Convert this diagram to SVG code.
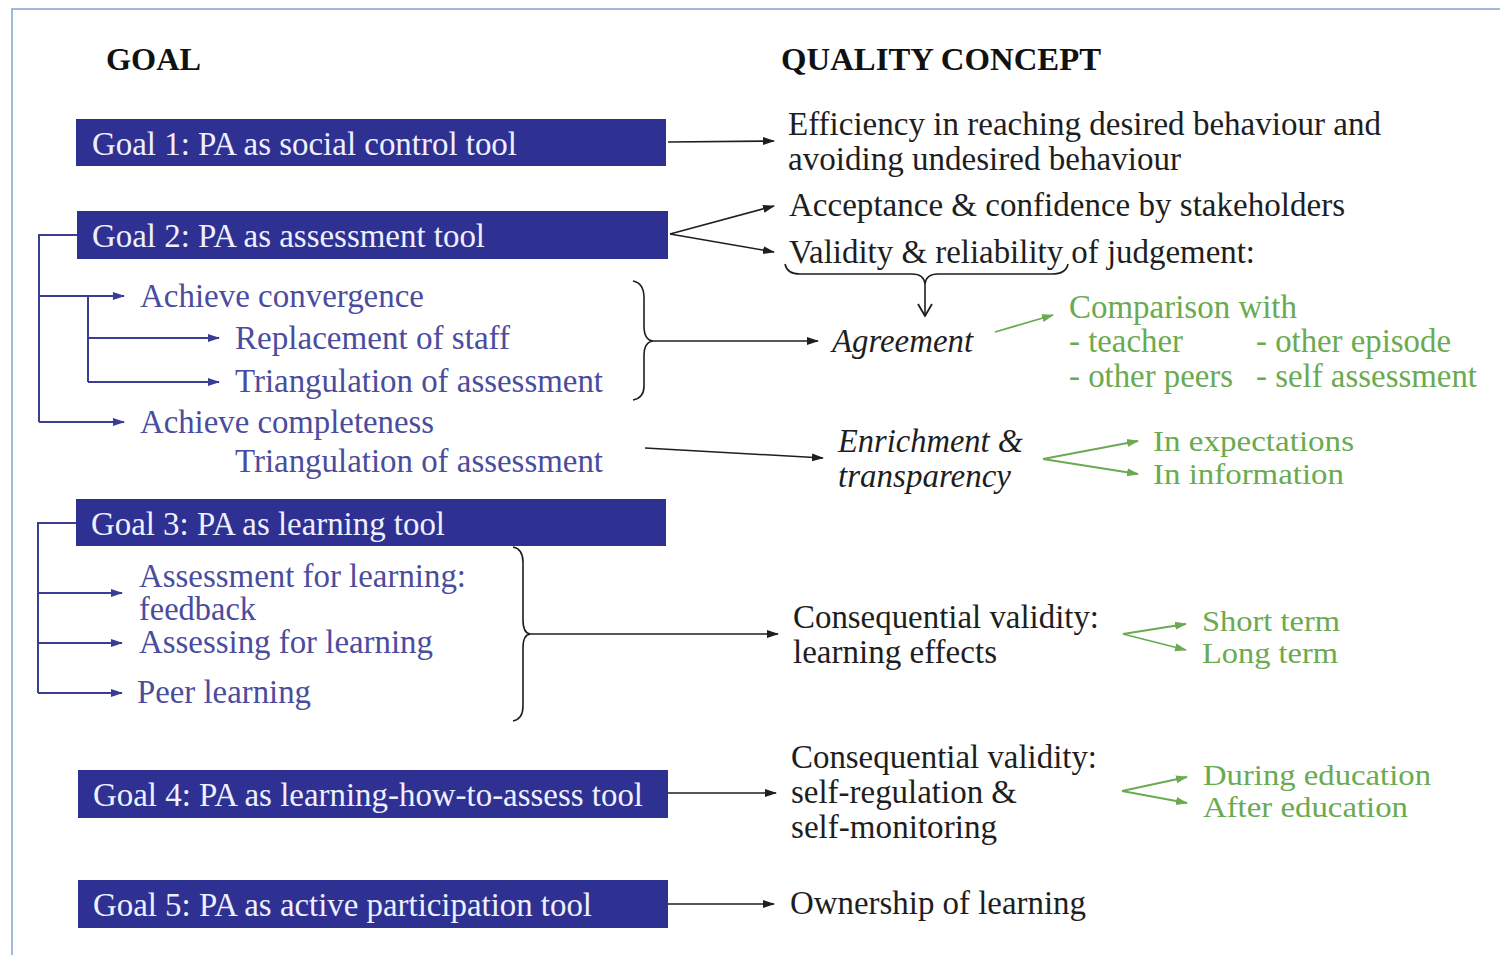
<svg xmlns="http://www.w3.org/2000/svg" width="1500" height="955" viewBox="0 0 1500 955">
<style>
text{font-family:"Liberation Serif","Times New Roman",serif;font-size:33px}
.hd{font-weight:bold;fill:#111;font-size:32px}
.box{fill:#2e3192}
.bt{fill:#eef0ff}
.k{fill:#1e1e1e}
.it{font-style:italic}
.b{fill:#4a4c9e}
.g{fill:#6aaa50}
.sm{font-size:28.5px}
.lk{stroke:#1e1e1e;stroke-width:1.6;fill:none}
.lb{stroke:#3a3c96;stroke-width:2;fill:none}
.lg{stroke:#6aaa50;stroke-width:1.8;fill:none}
</style>
<defs>
<marker id="ak" markerWidth="12" markerHeight="10" refX="11" refY="5" orient="auto" markerUnits="userSpaceOnUse"><path d="M0,1 L12,5 L0,9 z" fill="#1e1e1e"/></marker>
<marker id="ab" markerWidth="12" markerHeight="10" refX="11" refY="5" orient="auto" markerUnits="userSpaceOnUse"><path d="M0,1 L12,5 L0,9 z" fill="#3a3c96"/></marker>
<marker id="ag" markerWidth="12" markerHeight="10" refX="11" refY="5" orient="auto" markerUnits="userSpaceOnUse"><path d="M0,1 L12,5 L0,9 z" fill="#6aaa50"/></marker>
<marker id="ao" markerWidth="14" markerHeight="16" refX="13" refY="8" orient="auto" markerUnits="userSpaceOnUse"><path d="M1,1 L13,8 L1,15" fill="none" stroke="#1e1e1e" stroke-width="1.8"/></marker>
</defs>
<rect width="1500" height="955" fill="#fff"/>
<path d="M12,955 V9 H1500" fill="none" stroke="#7fa3d9" stroke-width="1.5"/>

<text class="hd" x="106" y="70" textLength="95" lengthAdjust="spacingAndGlyphs">GOAL</text>
<text class="hd" x="781" y="70" textLength="320" lengthAdjust="spacingAndGlyphs">QUALITY CONCEPT</text>

<g id="goal1"><rect class="box" x="76" y="119" width="590" height="47"/><text class="bt" x="92" y="155" textLength="425" lengthAdjust="spacingAndGlyphs">Goal 1: PA as social control tool</text></g>
<g id="goal2"><rect class="box" x="77" y="211" width="591" height="48"/><text class="bt" x="92" y="247" textLength="393" lengthAdjust="spacingAndGlyphs">Goal 2: PA as assessment tool</text></g>
<g id="goal3"><rect class="box" x="76" y="499" width="590" height="47"/><text class="bt" x="91" y="535" textLength="354" lengthAdjust="spacingAndGlyphs">Goal 3: PA as learning tool</text></g>
<g id="goal4"><rect class="box" x="78" y="770" width="590" height="48"/><text class="bt" x="93" y="806" textLength="550" lengthAdjust="spacingAndGlyphs">Goal 4: PA as learning-how-to-assess tool</text></g>
<g id="goal5"><rect class="box" x="78" y="880" width="590" height="48"/><text class="bt" x="93" y="916" textLength="499" lengthAdjust="spacingAndGlyphs">Goal 5: PA as active participation tool</text></g>

<g id="sub-goal2">
<text class="b" x="140" y="307" textLength="284" lengthAdjust="spacingAndGlyphs">Achieve convergence</text>
<text class="b" x="235" y="349" textLength="275" lengthAdjust="spacingAndGlyphs">Replacement of staff</text>
<text class="b" x="235" y="392" textLength="368" lengthAdjust="spacingAndGlyphs">Triangulation of assessment</text>
<text class="b" x="140" y="433" textLength="294" lengthAdjust="spacingAndGlyphs">Achieve completeness</text>
<text class="b" x="235" y="472" textLength="368" lengthAdjust="spacingAndGlyphs">Triangulation of assessment</text>
</g>
<g id="sub-goal3">
<text class="b" x="139" y="587" textLength="327" lengthAdjust="spacingAndGlyphs">Assessment for learning:</text>
<text class="b" x="139" y="620" textLength="117" lengthAdjust="spacingAndGlyphs">feedback</text>
<text class="b" x="139" y="653" textLength="294" lengthAdjust="spacingAndGlyphs">Assessing for learning</text>
<text class="b" x="137" y="703" textLength="174" lengthAdjust="spacingAndGlyphs">Peer learning</text>
</g>

<g id="concepts">
<text class="k" x="788" y="135" textLength="593" lengthAdjust="spacingAndGlyphs">Efficiency in reaching desired behaviour and</text>
<text class="k" x="788" y="170" textLength="393" lengthAdjust="spacingAndGlyphs">avoiding undesired behaviour</text>
<text class="k" x="789" y="216" textLength="556" lengthAdjust="spacingAndGlyphs">Acceptance &amp; confidence by stakeholders</text>
<text class="k" x="789" y="263" textLength="466" lengthAdjust="spacingAndGlyphs">Validity &amp; reliability of judgement:</text>
<text class="k it" x="832" y="352" textLength="141" lengthAdjust="spacingAndGlyphs">Agreement</text>
<text class="k it" x="838" y="452" textLength="185" lengthAdjust="spacingAndGlyphs">Enrichment &amp;</text>
<text class="k it" x="838" y="487" textLength="173" lengthAdjust="spacingAndGlyphs">transparency</text>
<text class="k" x="793" y="628" textLength="306" lengthAdjust="spacingAndGlyphs">Consequential validity:</text>
<text class="k" x="793" y="663" textLength="204" lengthAdjust="spacingAndGlyphs">learning effects</text>
<text class="k" x="791" y="768" textLength="306" lengthAdjust="spacingAndGlyphs">Consequential validity:</text>
<text class="k" x="791" y="803" textLength="226" lengthAdjust="spacingAndGlyphs">self-regulation &amp;</text>
<text class="k" x="791" y="838" textLength="206" lengthAdjust="spacingAndGlyphs">self-monitoring</text>
<text class="k" x="790" y="914" textLength="296" lengthAdjust="spacingAndGlyphs">Ownership of learning</text>
</g>

<g id="details">
<text class="g" x="1069" y="318" textLength="228" lengthAdjust="spacingAndGlyphs">Comparison with</text>
<text class="g" x="1069" y="352" textLength="114" lengthAdjust="spacingAndGlyphs">- teacher</text>
<text class="g" x="1256" y="352" textLength="195" lengthAdjust="spacingAndGlyphs">- other episode</text>
<text class="g" x="1069" y="387" textLength="164" lengthAdjust="spacingAndGlyphs">- other peers</text>
<text class="g" x="1256" y="387" textLength="221" lengthAdjust="spacingAndGlyphs">- self assessment</text>
<text class="g sm" x="1153" y="451" textLength="201" lengthAdjust="spacingAndGlyphs">In expectations</text>
<text class="g sm" x="1153" y="484" textLength="191" lengthAdjust="spacingAndGlyphs">In information</text>
<text class="g sm" x="1202" y="631" textLength="138" lengthAdjust="spacingAndGlyphs">Short term</text>
<text class="g sm" x="1202" y="663" textLength="136" lengthAdjust="spacingAndGlyphs">Long term</text>
<text class="g sm" x="1203" y="785" textLength="228" lengthAdjust="spacingAndGlyphs">During education</text>
<text class="g sm" x="1203" y="817" textLength="205" lengthAdjust="spacingAndGlyphs">After education</text>
</g>

<g id="connectors">
<path class="lb" d="M77,235 H39 V422"/>
<path class="lb" d="M39,296 H124" marker-end="url(#ab)"/>
<path class="lb" d="M88,296 V382"/>
<path class="lb" d="M88,338 H219" marker-end="url(#ab)"/>
<path class="lb" d="M88,382 H219" marker-end="url(#ab)"/>
<path class="lb" d="M39,422 H124" marker-end="url(#ab)"/>
<path class="lb" d="M76,523 H38 V693"/>
<path class="lb" d="M38,593 H122" marker-end="url(#ab)"/>
<path class="lb" d="M38,643 H122" marker-end="url(#ab)"/>
<path class="lb" d="M38,693 H122" marker-end="url(#ab)"/>
<path class="lk" d="M668,142 L774,141" marker-end="url(#ak)"/>
<path class="lk" d="M670,234 L774,206" marker-end="url(#ak)"/>
<path class="lk" d="M670,234 L774,252" marker-end="url(#ak)"/>
<path class="lk" d="M785,264 Q787,274 800,274 H912 Q924,274 925,284 Q926,274 938,274 H1052 Q1066,274 1068,264"/>
<path class="lk" d="M925,284 V316" marker-end="url(#ao)"/>
<path class="lk" d="M633,281 Q644,283 644,298 V326 Q644,340 653,341 Q644,342 644,356 V386 Q644,398 633,400"/>
<path class="lk" d="M653,341 H818" marker-end="url(#ak)"/>
<path class="lk" d="M645,448 L823,458" marker-end="url(#ak)"/>
<path class="lk" d="M513,547 Q523,549 523,562 V620 Q523,633 530,634 Q523,635 523,648 V706 Q523,719 513,721"/>
<path class="lk" d="M530,634 H778" marker-end="url(#ak)"/>
<path class="lk" d="M668,793 H776" marker-end="url(#ak)"/>
<path class="lk" d="M668,904 H774" marker-end="url(#ak)"/>
<path class="lg" d="M995,332 L1053,315" marker-end="url(#ag)"/>
<path class="lg" d="M1043,459 L1138,441" marker-end="url(#ag)"/>
<path class="lg" d="M1043,459 L1138,474" marker-end="url(#ag)"/>
<path class="lg" d="M1123,634 L1186,624" marker-end="url(#ag)"/>
<path class="lg" d="M1123,634 L1186,650" marker-end="url(#ag)"/>
<path class="lg" d="M1122,791 L1187,777" marker-end="url(#ag)"/>
<path class="lg" d="M1122,791 L1187,803" marker-end="url(#ag)"/>
</g>
</svg>
